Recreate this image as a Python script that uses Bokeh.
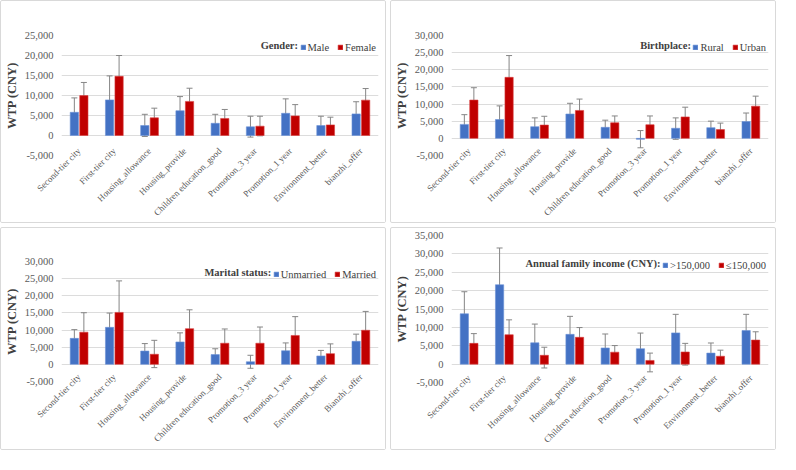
import math
from bokeh.plotting import figure
from bokeh.models import (ColumnDataSource, FactorRange, Range1d, FixedTicker, NumeralTickFormatter,
                          Whisker, TeeHead, Legend, LegendItem, Label)
from bokeh.transform import dodge
from bokeh.layouts import row, column
from bokeh.embed import file_html
from bokeh.resources import INLINE

# ---------------- data ----------------
categories = ["Second-tier city", "First-tier city", "Housing_allowance", "Housing_provide",
              "Children education_good", "Promotion_3 year", "Promotion_1 year",
              "Environment_better", "bianzhi_offer"]
categories_marital = ["Second-tier city", "First-tier city", "Housing_allowance", "Housing_provide",
                      "Children education_good", "Promotion_3 year", "Promotion_1 year",
                      "Environment_better", "Bianzhi_offer"]

# Gender
male = [5800, 8900, 2500, 6200, 3050, 2170, 5550, 2490, 5400]
male_lo = [2700, 4500, -240, 2570, 880, -400, 2650, 320, 2800]
male_hi = [9400, 14900, 5300, 9730, 5300, 4820, 9160, 4820, 8440]
female = [9970, 14800, 4420, 8520, 4260, 2330, 4900, 2650, 8840]
female_lo = [6900, 10600, 1850, 5790, 2170, -80, 2410, 880, 6590]
female_hi = [13260, 20000, 6830, 11820, 6510, 4820, 7720, 4580, 11740]

# Birthplace
rural = [4070, 5500, 3410, 7100, 3220, -280, 2940, 3130, 4920]
rural_lo = [1230, 1990, 1040, 4170, 1230, -2750, -280, 1140, 2560]
rural_hi = [6910, 9470, 5970, 10230, 5300, 2270, 5970, 5020, 7390]
urban = [11170, 17800, 3880, 8140, 4550, 3980, 6250, 2560, 9380]
urban_lo = [7950, 12880, 1420, 5210, 2370, 1420, 3410, 660, 6720]
urban_hi = [14770, 24150, 6440, 11460, 6530, 6530, 9090, 4450, 12310]

# Marital status
unmarried = [7580, 10800, 3880, 6530, 2840, 760, 3980, 2460, 6720]
unmarried_lo = [5210, 7100, 1800, 4070, 1330, -1140, 1890, 950, 4740]
unmarried_hi = [10130, 14960, 6060, 9190, 4550, 2650, 6250, 4070, 8810]
married = [9380, 15150, 2940, 10420, 6160, 6160, 8430, 3130, 9940]
married_lo = [4260, 8620, -950, 5400, 2840, 2270, 4170, 660, 5680]
married_hi = [15060, 24340, 7010, 15910, 10320, 10890, 13920, 5970, 15440]

# Annual family income
high_inc = [13700, 21600, 5800, 8100, 4400, 4200, 8500, 3000, 9150]
high_inc_lo = [9200, 14850, 2300, 3950, 1320, 440, 4560, 440, 5900]
high_inc_hi = [19700, 31600, 10900, 13000, 8200, 8450, 13550, 5750, 13550]
low_inc = [5650, 8000, 2400, 7300, 3250, 1000, 3300, 2150, 6550]
low_inc_lo = [1150, 1150, -1050, 3250, 800, -2100, -260, 0, 2630]
low_inc_hi = [8300, 12050, 4600, 9950, 5050, 3000, 5650, 3800, 8800]

BLUE = "#4472C4"
RED = "#C00000"
SERIF = "Liberation Serif"

# approximate Times glyph advance widths (em) for legend width estimate
TW = {"M": .889, "a": .444, "l": .278, "e": .444, "F": .556, "m": .778, "R": .667, "u": .5,
      "r": .333, "U": .722, "b": .5, "n": .5, "i": .278, "d": .5, ">": .564, "1": .5, "5": .5,
      "0": .5, ",": .25, "\u2264": .549}

W, H = 386, 223
LEFT, RIGHT = 60, 9
FS = 10.5
GW, GS, SP, PAD = 6, 2, 8, 1


def text_w(s):
    return sum(TW.get(c, 0.5) for c in s) * FS


def make_panel(cats, title, name1, v1, lo1, hi1, name2, v2, lo2, hi2, ymax, top_b, bot_b, leg_c):
    p = figure(x_range=FactorRange(*cats), y_range=Range1d(-5000, ymax),
               width=W, height=H, output_backend="svg", toolbar_location=None,
               min_border_left=LEFT, min_border_right=RIGHT, min_border_top=top_b,
               min_border_bottom=bot_b,
               styles={"border": "1px solid #d9d9d9", "border-radius": "2px"})
    src = ColumnDataSource(dict(cat=cats, v1=v1, lo1=lo1, hi1=hi1, v2=v2, lo2=lo2, hi2=hi2))
    off = 0.135
    w = 0.235
    r1 = p.vbar(x=dodge("cat", -off, range=p.x_range), top="v1", bottom=0, width=w, source=src,
                fill_color=BLUE, line_color="#6d93d6", line_width=0.6)
    r2 = p.vbar(x=dodge("cat", off, range=p.x_range), top="v2", bottom=0, width=w, source=src,
                fill_color=RED, line_color="#d94040", line_width=0.6)
    for base, lo, hi in ((dodge("cat", -off, range=p.x_range), "lo1", "hi1"),
                         (dodge("cat", off, range=p.x_range), "lo2", "hi2")):
        wk = Whisker(base=base, lower=lo, upper=hi, source=src, line_color="#868686", line_width=1,
                     upper_head=TeeHead(size=6, line_color="#868686", line_width=1),
                     lower_head=TeeHead(size=6, line_color="#868686", line_width=1))
        p.add_layout(wk)

    p.yaxis.ticker = FixedTicker(ticks=list(range(-5000, ymax + 1, 5000)))
    p.yaxis.formatter = NumeralTickFormatter(format="0,0")
    p.yaxis.axis_label = "WTP (CNY)"
    p.yaxis.axis_label_text_font = SERIF
    p.yaxis.axis_label_text_font_style = "bold"
    p.yaxis.axis_label_text_font_size = "12.5px"
    p.yaxis.axis_label_text_color = "#404040"
    p.yaxis.axis_label_standoff = 3
    for ax in (p.xaxis, p.yaxis):
        ax.axis_line_color = None
        ax.major_tick_line_color = None
        ax.minor_tick_line_color = None
        ax.major_tick_out = 0
        ax.major_tick_in = 0
        ax.minor_tick_out = 0
        ax.minor_tick_in = 0
        ax.major_label_text_font = SERIF
        ax.major_label_text_color = "#595959"
    p.yaxis.major_label_text_font_size = "10.5px"
    p.yaxis.major_label_standoff = 8
    p.xaxis.major_label_text_font_size = "9px"
    p.xaxis.major_label_orientation = math.pi / 4
    p.xaxis.major_label_standoff = -6
    p.xgrid.grid_line_color = None
    p.ygrid.grid_line_color = "#dcdcdc"
    p.outline_line_color = None

    frame_w = W - LEFT - RIGHT
    frame_h = H - top_b - bot_b
    leg_w = 2 * PAD + (GW + GS + text_w(name1)) + SP + (GW + GS + text_w(name2))
    leg_h = 2 * PAD + 13
    lx = frame_w - leg_w
    ly = frame_h - leg_c - leg_h / 2
    leg = Legend(items=[LegendItem(label=name1, renderers=[r1]), LegendItem(label=name2, renderers=[r2])],
                 orientation="horizontal", location=(lx, ly), margin=0, padding=PAD, spacing=SP,
                 glyph_width=GW, glyph_height=GW, label_standoff=GS,
                 background_fill_alpha=0, border_line_color=None,
                 label_text_font=SERIF, label_text_font_size=f"{FS}px", label_text_color="#404040")
    p.add_layout(leg)
    p.add_layout(Label(x=lx - 2, y=frame_h - leg_c, x_units="screen", y_units="screen", text=title,
                       text_align="right", text_baseline="middle", text_font=SERIF,
                       text_font_style="bold", text_font_size=f"{FS}px", text_color="#404040"))
    return p


p1 = make_panel(categories, "Gender:", "Male", male, male_lo, male_hi,
                "Female", female, female_lo, female_hi, 25000, 34, 68, 11)
p2 = make_panel(categories, "Birthplace:", "Rural", rural, rural_lo, rural_hi,
                "Urban", urban, urban_lo, urban_hi, 30000, 34, 68, 11)
p3 = make_panel(categories_marital, "Marital status:", "Unmarried", unmarried, unmarried_lo, unmarried_hi,
                "Married", married, married_lo, married_hi, 30000, 33, 70, 11)
p4 = make_panel(categories, "Annual family income (CNY):", ">150,000", high_inc, high_inc_lo, high_inc_hi,
                "\u2264150,000", low_inc, low_inc_lo, low_inc_hi, 35000, 7, 68, 29)

layout = row(column(p1, p3, spacing=4), column(p2, p4, spacing=4), spacing=4)

open("out.html", "w").write(file_html(layout, INLINE))
